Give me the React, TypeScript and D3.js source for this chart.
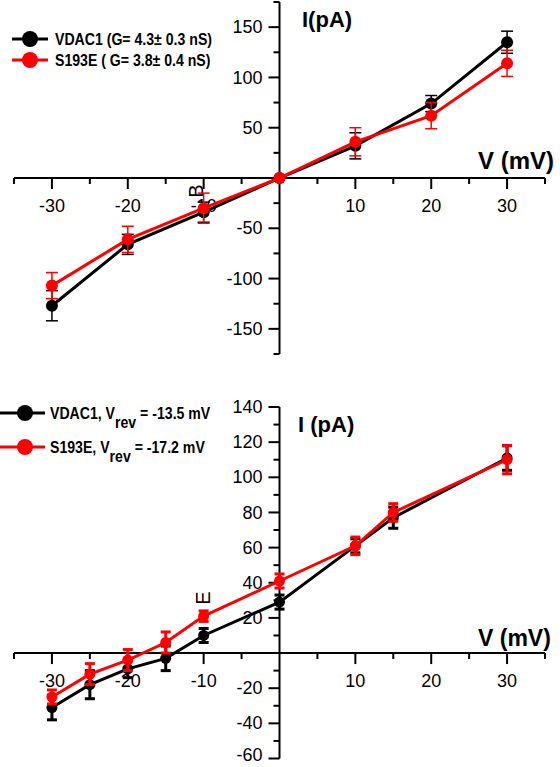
import React from "react";
import * as d3 from "d3";

// ---------- Data ----------
const topVoltages = [-30, -20, -10, 0, 10, 20, 30];
const topVdac1 = [-127, -66, -34, 0, 32, 74, 135];
const topVdac1Err = [15, 10, 10, 0, 13, 8, 11];
const topS193E = [-107, -61, -30, 0, 36, 62, 114];
const topS193EErr = [13, 13, 15, 0, 14, 13, 13];

const botVoltages = [-30, -25, -20, -15, -10, 0, 10, 15, 30];
const botVdac1 = [-31, -18, -9, -3, 10, 29, 61, 77, 111];
const botVdac1Err = [7, 8, 5, 7, 4, 4, 4, 6, 7];
const botS193E = [-25, -12, -4, 6, 21, 41, 61, 80, 110];
const botS193EErr = [4, 6, 6, 6, 3, 4, 5, 5, 8];

const topXTickLabels = [-30, -20, -10, 10, 20, 30];
const topYTickLabels = [-150, -100, -50, 50, 100, 150];
const botXTickLabels = [-30, -20, -10, 10, 20, 30];
const botYTickLabels = [-60, -40, -20, 20, 40, 60, 80, 100, 120, 140];

const topLegend = ["VDAC1 (G= 4.3\u00b1 0.3 nS)", "S193E ( G= 3.8\u00b1 0.4 nS)"];
const botLegendNames = ["VDAC1, V", "S193E, V"];
const botLegendValues = ["= -13.5 mV", "=  -17.2 mV"];

const RED = "#ff0000";
const BLACK = "#000000";
const FONT = "'Liberation Sans', Arial, Helvetica, sans-serif";
const H = 767;

const x = d3.scaleLinear().domain([-35, 35]).range([14, 545]);
const yTop = d3.scaleLinear().domain([-175, 175]).range([354, 2]);
const yBot = d3.scaleLinear().domain([-60, 140]).range([758.5, 407]);

type Series = { xs: number[]; ys: number[]; errs: number[]; color: string };

function Axes({ y, xMinor, xMajor, yMinor, yMajor, xLabels, yLabels }: any) {
  const x0 = x(0);
  const y0 = y(0);
  const [yb, yt] = y.range();
  return (
    <g>
      <line x1={x.range()[0]} x2={x.range()[1]} y1={y0} y2={y0} stroke={BLACK} strokeWidth={2} />
      <line x1={x0} x2={x0} y1={yb} y2={yt} stroke={BLACK} strokeWidth={2} />
      {xMinor.map((v: number) => (
        <line key={"xm" + v} x1={x(v)} x2={x(v)} y1={y0} y2={y0 + 6} stroke={BLACK} strokeWidth={2} />
      ))}
      {xMajor.map((v: number) => (
        <line key={"xM" + v} x1={x(v)} x2={x(v)} y1={y0} y2={y0 + 11} stroke={BLACK} strokeWidth={2} />
      ))}
      {yMinor.map((v: number) => (
        <line key={"ym" + v} x1={x0 - 6} x2={x0} y1={y(v)} y2={y(v)} stroke={BLACK} strokeWidth={2} />
      ))}
      {yMajor.map((v: number) => (
        <line key={"yM" + v} x1={x0 - 11} x2={x0} y1={y(v)} y2={y(v)} stroke={BLACK} strokeWidth={2} />
      ))}
      {xLabels.map((v: number) => (
        <text key={"xl" + v} x={x(v)} y={y0 + 34} textAnchor="middle" fontSize={18} fontFamily={FONT} fill={BLACK}>
          {v}
        </text>
      ))}
      {yLabels.map((v: number) => (
        <text key={"yl" + v} x={x0 - 17} y={Math.min(y(v), H - 12)} dy="0.34em" textAnchor="end" fontSize={18} fontFamily={FONT} fill={BLACK}>
          {v}
        </text>
      ))}
    </g>
  );
}

function Plot({ y, series, r, errWidth, capHalf }: any) {
  const line = d3
    .line<[number, number]>()
    .x((d) => x(d[0]))
    .y((d) => y(d[1]));
  return (
    <g>
      {series.map((s: Series, i: number) => (
        <g key={i}>
          <path d={line(s.xs.map((v, j) => [v, s.ys[j]]) as [number, number][]) || ""} fill="none" stroke={s.color} strokeWidth={3} />
          {s.xs.map((v, j) =>
            s.errs[j] > 0 ? (
              <g key={"e" + j} stroke={s.color} strokeWidth={errWidth}>
                <line x1={x(v)} x2={x(v)} y1={y(s.ys[j] - s.errs[j])} y2={y(s.ys[j] + s.errs[j])} />
                <line x1={x(v) - capHalf} x2={x(v) + capHalf} y1={y(s.ys[j] - s.errs[j])} y2={y(s.ys[j] - s.errs[j])} />
                <line x1={x(v) - capHalf} x2={x(v) + capHalf} y1={y(s.ys[j] + s.errs[j])} y2={y(s.ys[j] + s.errs[j])} />
              </g>
            ) : null
          )}
          {s.xs.map((v, j) => (
            <circle key={"c" + j} cx={x(v)} cy={y(s.ys[j])} r={r} fill={s.color} />
          ))}
        </g>
      ))}
    </g>
  );
}

export default function App() {
  const topSeries: Series[] = [
    { xs: topVoltages, ys: topVdac1, errs: topVdac1Err, color: BLACK },
    { xs: topVoltages, ys: topS193E, errs: topS193EErr, color: RED },
  ];
  const botSeries: Series[] = [
    { xs: botVoltages, ys: botVdac1, errs: botVdac1Err, color: BLACK },
    { xs: botVoltages, ys: botS193E, errs: botS193EErr, color: RED },
  ];
  const range = (a: number, b: number, s: number) => d3.range(a, b + s / 2, s);
  const topXMajor = [-30, -20, -10, 10, 20, 30];
  const topXMinor = [-35, -25, -15, -5, 5, 15, 25, 35];
  const topYMajor = [-150, -100, -50, 50, 100, 150];
  const topYMinor = [-175, -125, -75, -25, 25, 75, 125, 175];
  const botYMajor = range(-60, 140, 20).filter((v) => v !== 0);
  const botYMinor = range(-50, 130, 20);

  return (
    <svg width={560} height={H} style={{ position: "absolute", left: 0, top: 0, background: "#fff" }}>
      <rect width={560} height={H} fill="#fff" />
      {/* ---------- Top panel ---------- */}
      <Axes y={yTop} xMinor={topXMinor} xMajor={topXMajor} yMinor={topYMinor} yMajor={topYMajor} xLabels={topXTickLabels} yLabels={topYTickLabels} />
      <text x={196} y={191} transform="rotate(-90 196 191)" textAnchor="middle" dy="0.36em" fontSize={20} fontFamily={FONT}>
        B
      </text>
      <Plot y={yTop} series={topSeries} r={6} errWidth={1.5} capHalf={6} />
      <text x={302} y={27} fontSize={22} fontWeight="bold" fontFamily={FONT}>I(pA)</text>
      <text x={478} y={169} fontSize={24} fontWeight="bold" fontFamily={FONT}>V (mV)</text>
      {topLegend.map((t, i) => {
        const cy = 39 + i * 21;
        const c = i === 0 ? BLACK : RED;
        return (
          <g key={t}>
            <line x1={12} x2={48} y1={cy} y2={cy} stroke={c} strokeWidth={3} />
            <circle cx={30} cy={cy} r={8} fill={c} />
            <text transform={`translate(55 ${cy + 6}) scale(0.83 1)`} fontSize={17} fontWeight="bold" fontFamily={FONT}>
              {t}
            </text>
          </g>
        );
      })}

      {/* ---------- Bottom panel ---------- */}
      <Axes y={yBot} xMinor={topXMinor} xMajor={topXMajor} yMinor={botYMinor} yMajor={botYMajor} xLabels={botXTickLabels} yLabels={botYTickLabels} />
      <text x={203} y={598} transform="rotate(-90 203 598)" textAnchor="middle" dy="0.36em" fontSize={20} fontFamily={FONT}>
        E
      </text>
      <Plot y={yBot} series={botSeries} r={5.5} errWidth={3} capHalf={5} />
      <text x={298} y={432} fontSize={22} fontWeight="bold" fontFamily={FONT}>I (pA)</text>
      <text x={478} y={646} fontSize={23} fontWeight="bold" fontFamily={FONT}>V (mV)</text>
      {botLegendNames.map((t, i) => {
        const cy = 413 + i * 34;
        const c = i === 0 ? BLACK : RED;
        return (
          <g key={t}>
            <line x1={0} x2={45} y1={cy} y2={cy} stroke={c} strokeWidth={3} />
            <circle cx={25} cy={cy} r={8} fill={c} />
            <text transform={`translate(50 ${cy + 6}) scale(0.83 1)`} fontSize={17} fontWeight="bold" fontFamily={FONT}>
              {t}
              <tspan dy={9}>rev</tspan>
              <tspan dy={-9}> {botLegendValues[i]}</tspan>
            </text>
          </g>
        );
      })}
    </svg>
  );
}
